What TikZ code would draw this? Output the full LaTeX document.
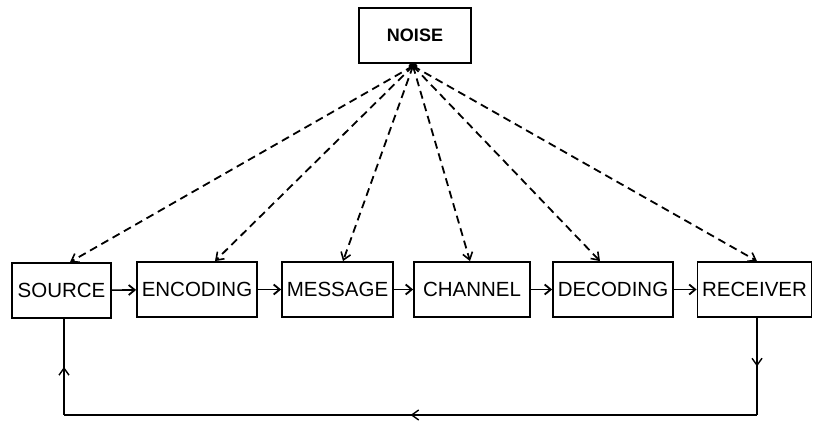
\documentclass[tikz,border=0pt]{standalone}
\usepackage{fontspec}
\setmainfont{Liberation Sans}
\usetikzlibrary{arrows.meta,decorations.markings}
\begin{document}
\begin{tikzpicture}[x=1pt,y=-1pt,
  box/.style={draw,line width=1.8pt,minimum height=55pt,inner sep=0pt,font=\fontsize{20.5}{22}\selectfont},
  flow/.style={line width=1.6pt,-{Straight Barb[length=6pt,width=10pt,line width=1.8pt]}},
  noisearrow/.style={line width=1.8pt,dash pattern=on 8pt off 5pt,-{Straight Barb[length=7pt,width=10pt,line width=1.6pt]}},
  fb/.style={line width=1.6pt},
  midarrow/.style={decoration={markings,mark=at position #1 with {\arrow{Straight Barb[length=7pt,width=10pt,line width=1.4pt]}}},postaction={decorate}}
]
\useasboundingbox (0,0) rectangle (814,427);
\node[draw,line width=1.8pt,minimum width=112pt,minimum height=55pt,inner sep=0pt,font=\fontsize{18}{20}\selectfont\bfseries] (noise) at (415,35.5) {NOISE};
\node[box,minimum width=99pt] (src) at (61.5,290.5) {SOURCE};
\node[box,minimum width=120pt] (enc) at (197,289.5) {ENCODING};
\node[box,minimum width=111pt] (msg) at (337.5,289.5) {MESSAGE};
\node[box,minimum width=116pt] (chn) at (472,289.5) {CHANNEL};
\node[box,minimum width=120pt] (dec) at (613,289.5) {DECODING};
\node[box,minimum width=114pt] (rcv) at (754.5,289.5) {RECEIVER};
\coordinate (hub) at (413,66);
\fill (hub) ellipse (4.5pt and 3pt);
\draw[noisearrow] (hub) -- (src.north -| 70,0);
\draw[noisearrow] (hub) -- (enc.north -| 215,0);
\draw[noisearrow] (hub) -- (msg.north -| 343,0);
\draw[noisearrow] (hub) -- (chn.north -| 470,0);
\draw[noisearrow] (hub) -- (dec.north -| 600,0);
\draw[noisearrow] (hub) -- (rcv.north -| 757,0);
\draw[flow] (src) -- (enc);
\draw[flow] (enc) -- (msg);
\draw[flow] (msg) -- (chn);
\draw[flow] (chn) -- (dec);
\draw[flow] (dec) -- (rcv);
\coordinate (br) at (757,415);
\coordinate (bl) at (64,415);
\draw[fb,midarrow=0.5] (rcv.south -| br) -- (br);
\draw[fb,midarrow=0.5] (br) -- (bl);
\draw[fb,midarrow=0.5] (bl) -- (src.south -| bl);
\end{tikzpicture}
\end{document}
